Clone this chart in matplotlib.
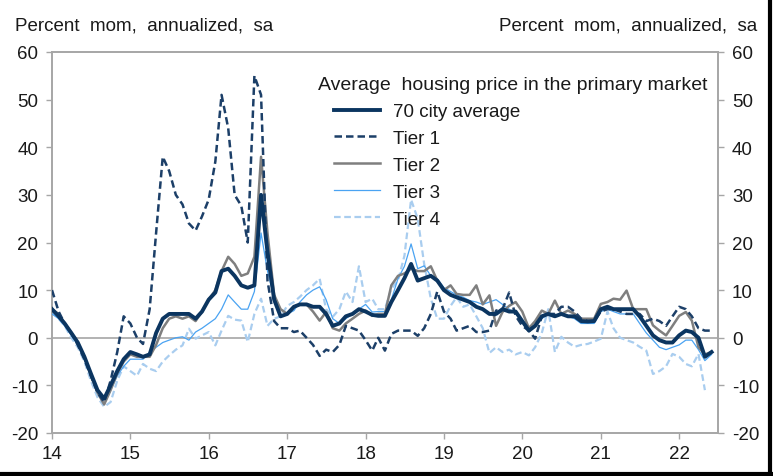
import matplotlib
matplotlib.use('Agg')
import matplotlib.pyplot as plt
import matplotlib.dates as mdates
from matplotlib.lines import Line2D
import numpy as np
import pandas as pd

plt.rcParams['font.family'] = ['Liberation Sans', 'DejaVu Sans']
plt.rcParams['axes.unicode_minus'] = False

# monthly series, Jan 2014 - Jun 2022 (percent mom, annualized, sa)
avg70 = [6, 4.5, 3, 1, -1, -4, -7.5, -11, -12.8, -10, -7, -4.5,
         -3, -3.5, -4, -3.5, 1, 4, 5, 5, 5, 5, 4, 5.5,
         8, 9.5, 14, 14.5, 13, 11, 10.5, 11, 30, 18, 8, 4.5,
         5, 6.5, 7, 7, 6.5, 6.5, 5, 2.5, 3, 4.5, 5, 6,
         5.5, 4.8, 4.6, 4.6, 7.5, 10, 12.5, 15.5, 12, 12.5, 13, 12,
         10, 9, 8.5, 8, 7.5, 6.5, 6, 5, 5, 6, 5.5, 5.5,
         3.5, 1.5, 2.5, 4.5, 5, 4.5, 5, 4.5, 4.5, 3.5, 3.4, 3.5,
         6, 6.5, 6, 6, 6, 6, 4.5, 2.5, 0.5, -0.5, -1, -1,
         0.5, 1.5, 1.2, 0, -4, -3]

tier1 = [10, 5.5, 3, 1, -1.5, -4.5, -8, -11.5, -13.5, -9, -3, 4.5,
         3, 0, -1.3, 6, 22, 38, 35, 30, 28, 24, 22.5, 25.5,
         29, 37, 51, 44, 30, 27.7, 20, 55, 51, 12, 3.5, 2,
         2, 1.2, 1.5, 0, -1.5, -3.8, -2.5, -3, -1.5, 2.5, 2, 1.5,
         -0.5, -2.7, 0, -2.7, 0.8, 1.5, 1.5, 1.5, 0.4, 2, 5, 9.7,
         5.5, 4, 1.5, 2, 2.5, 1.2, 1.2, 1.5, 5.7, 6, 9.5, 4.6,
         2.5, 1.5, -0.2, 4.5, 5, 5, 6.5, 6.5, 5.5, 4, 3.5, 3.5,
         5.5, 6, 6, 5.5, 5, 5, 5, 3.5, 4, 3.5, 2.5, 4.5,
         6.5, 6, 4.5, 2, 1.5, 1.5]

tier2 = [6, 5, 3, 1, -1, -4, -8, -11.5, -14, -11, -7.5, -5,
         -3.5, -4, -4, -4, -1.5, 2, 4, 4.5, 4, 4.5, 3.5, 5.5,
         8, 10, 14, 17, 15.5, 13, 13.5, 17, 38, 22, 9, 6,
         5, 6.5, 7, 7, 5.5, 3.6, 5.4, 2, 1.5, 3, 4, 5,
         5.7, 4.6, 5, 5, 11, 13, 13.5, 14.5, 14, 14, 15, 12,
         10, 11, 9.2, 9, 9, 11, 7, 8.9, 2.5, 5.4, 6.7, 7.5,
         5.5, 2, 3.5, 5.7, 5, 7.8, 5, 5.7, 5, 4, 4, 4,
         7.1, 7.5, 8.2, 8, 9.9, 6, 6, 6, 2.6, 1.5, 0.5, 2.5,
         4.6, 5.4, 3.6, -2, -3.5, -3]

tier3 = [5, 4, 2.5, 0.5, -1.5, -4.5, -8, -11.5, -14, -11, -8, -6,
         -4.5, -4.5, -4.5, -3, -2, -1, -0.5, 0, 0.2, -0.5, 1.2, 2,
         3, 4, 6, 9, 7.5, 6, 6, 9.7, 22, 14, 8.5, 4.6,
         5, 5.7, 7.5, 9, 10, 10.7, 8, 4, 3, 4, 5, 6,
         7, 5.4, 5.5, 5.5, 8, 12.4, 15, 19.7, 14.5, 15.1, 13, 12.4,
         10.5, 9.7, 9, 8.5, 7.8, 7.5, 7, 7.5, 8, 7, 6, 5,
         3.5, 1.5, 2.5, 4, 5, 4.5, 5, 4.5, 4, 3, 3, 3,
         5.5, 6, 5.5, 5, 5, 5, 3, 1, -0.5, -2, -2.5, -2,
         -1.5, -0.5, -0.5, -2.5, -4.8, -3.5]

tier4 = [5.5, 4, 2.5, 0, -2, -5, -9, -12.5, -14.5, -13.5, -9, -6,
         -7, -8, -5.5, -6.5, -7, -5, -3.7, -2.5, -1.6, 1.9, -0.2, 0.5,
         1.2, -1.6, 1.5, 4.6, 3.8, 3.6, -0.9, 5, 8.2, 2.5, 4, 4.5,
         6.7, 7.5, 8.6, 10, 11, 12.4, 6, 4.4, 6, 9.7, 7.5, 15,
         7.5, 8.2, 6, 6, 10.3, 12, 17.2, 29, 25, 15.5, 8.2, 4,
         4, 6.7, 8.5, 6.5, 7, 4.5, 2, -3.2, -2, -3, -2.5, -3.5,
         -3, -3.7, -2, 1, 6, -3, 0.2, -1, -1.9, -1.5, -1.3, -0.8,
         -0.2, 5.5, 2, 0, -0.5, -1, -1.9, -2.7, -7.6, -7, -6, -3.4,
         -4, -5.5, -6, -3.4, -11, np.nan]

labels = ['70 city average', 'Tier 1', 'Tier 2', 'Tier 3', 'Tier 4']
dates = pd.date_range('2014-01-01', periods=len(avg70), freq='MS')

fig = plt.figure(figsize=(7.73, 4.77), dpi=100)
ax = fig.add_axes([52 / 773, 43 / 477, 666 / 773, 381 / 477])

ax.axhline(0, color='#a6a6a6', lw=1.2, zorder=1)

# back to front
l4, = ax.plot(dates, tier4, color='#a9cdef', lw=1.6, ls=(0, (3, 1.6)), zorder=2)
l3, = ax.plot(dates, tier3, color='#4aa3f2', lw=0.9, zorder=3)
l2, = ax.plot(dates, tier2, color='#7f7f7f', lw=1.8, zorder=4)
l1, = ax.plot(dates, tier1, color='#1c3f68', lw=1.8, ls=(0, (3, 1.6)), zorder=5)
l0, = ax.plot(dates, avg70, color='#0b3560', lw=2.8, zorder=6)

ax.set_ylim(-20, 60)
ax.set_yticks(range(-20, 61, 10))
ax.set_xlim(pd.Timestamp('2014-01-01'), pd.Timestamp('2022-07-01'))
ax.xaxis.set_major_locator(mdates.YearLocator())
ax.xaxis.set_major_formatter(mdates.DateFormatter('%y'))

for s in ax.spines.values():
    s.set_color('#a6a6a6')
    s.set_linewidth(1.4)
ax.tick_params(axis='both', color='#a6a6a6', length=4, width=1,
               labelsize=13.5, labelcolor='#1a1a1a')
ax.tick_params(axis='y', right=True, labelright=True, pad=6)
ax.tick_params(axis='x', pad=5)

# legend title and entries
ax.text(0.399, 0.916, 'Average  housing price in the primary market',
        transform=ax.transAxes, ha='left', va='center', fontsize=14,
        color='#1a1a1a')
leg = ax.legend([l0, l1, l2, l3, l4], labels, loc='upper left',
                bbox_to_anchor=(0.423, 0.866), frameon=False, fontsize=13.5,
                handlelength=2.45, handletextpad=0.7, labelspacing=0.52,
                borderpad=0, borderaxespad=0)
for t in leg.get_texts():
    t.set_color('#1a1a1a')

fig.text(15 / 773, 1 - 26 / 477, 'Percent  mom,  annualized,  sa',
         ha='left', va='center', fontsize=13.5, color='#1a1a1a')
fig.text(757 / 773, 1 - 26 / 477, 'Percent  mom,  annualized,  sa',
         ha='right', va='center', fontsize=13.5, color='#1a1a1a')

# dark frame on right and bottom edges
fig.add_artist(Line2D([0.9965, 0.9965], [0, 1], transform=fig.transFigure,
                      color='black', lw=3))
fig.add_artist(Line2D([0, 1], [0.004, 0.004], transform=fig.transFigure,
                      color='black', lw=3))

fig.savefig('out.png', dpi=100)
